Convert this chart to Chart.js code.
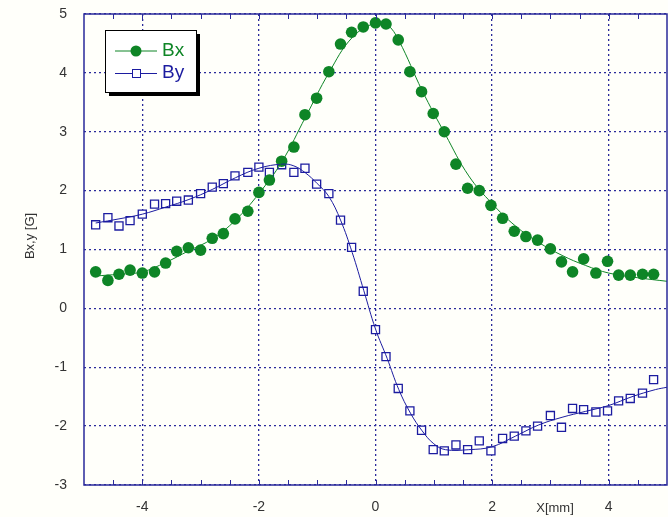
<!DOCTYPE html>
<html>
<head>
<meta charset="utf-8">
<script src="https://cdn.jsdelivr.net/npm/chart.js@4/dist/chart.umd.min.js"></script>
<style>
  html, body { margin: 0; padding: 0; background: #fffffa; }
  #wrap { width: 668px; height: 517px; position: relative; }
</style>
</head>
<body>
<div id="wrap"><canvas id="graph" width="668" height="517"></canvas></div>
<script>
// measured positions (mm)
var xs = [-4.80,-4.59,-4.40,-4.21,-4.00,-3.79,-3.60,-3.41,-3.21,-3.00,-2.80,-2.61,-2.41,-2.19,-2.00,-1.82,
  -1.61,-1.40,-1.21,-1.01,-0.80,-0.60,-0.41,-0.21,0.00,0.18,0.39,0.59,0.79,0.99,1.18,1.38,1.58,1.78,1.98,
  2.18,2.38,2.58,2.78,3.00,3.19,3.38,3.57,3.78,3.98,4.17,4.37,4.58,4.77];

// measured Bx, By (G)
var bx = [0.62,0.475,0.58,0.65,0.60,0.62,0.77,0.97,1.03,0.99,1.19,1.27,1.52,1.65,1.97,2.18,
  2.50,2.74,3.29,3.57,4.02,4.49,4.69,4.78,4.85,4.83,4.56,4.02,3.68,3.31,3.00,2.45,2.04,2.00,1.75,
  1.53,1.31,1.22,1.16,1.01,0.79,0.62,0.84,0.60,0.80,0.565,0.565,0.58,0.58];
var by = [1.42,1.54,1.40,1.49,1.60,1.77,1.78,1.82,1.84,1.95,2.06,2.12,2.25,2.31,2.40,2.31,
  2.44,2.31,2.38,2.11,1.95,1.50,1.035,0.29,-0.36,-0.82,-1.36,-1.74,-2.07,-2.40,-2.42,-2.32,-2.40,-2.25,-2.42,
  -2.21,-2.17,-2.08,-2.00,-1.82,-2.02,-1.70,-1.72,-1.76,-1.74,-1.57,-1.53,-1.44,-1.21];

// fitted curves
var fitX  = [-4.8,-4.4,-4.0,-3.6,-3.2,-2.8,-2.4,-2.0,-1.6,-1.2,-0.8,-0.4,0.0,0.2,0.4,0.8,1.2,1.6,2.0,2.4,2.8,3.2,3.6,4.0,4.5,5.0];
var fitBx = [0.55,0.58,0.62,0.78,0.98,1.18,1.50,1.95,2.50,3.25,4.00,4.60,4.85,4.82,4.55,3.70,2.95,2.25,1.78,1.40,1.12,0.90,0.73,0.60,0.52,0.46];
var fitByX = [-4.8,-4.4,-4.0,-3.6,-3.2,-2.8,-2.4,-2.0,-1.6,-1.4,-1.2,-1.0,-0.8,-0.6,-0.4,-0.2,0.0,0.2,0.4,0.6,0.8,1.0,1.2,1.6,2.0,2.4,2.8,3.2,3.6,4.0,4.4,4.8,5.0];
var fitBy  = [1.45,1.52,1.60,1.72,1.85,2.02,2.22,2.38,2.45,2.42,2.30,2.12,1.90,1.50,0.95,0.30,-0.35,-0.85,-1.38,-1.78,-2.08,-2.30,-2.40,-2.40,-2.35,-2.17,-1.98,-1.85,-1.75,-1.65,-1.50,-1.38,-1.34];

var xTickLabels = [-4, -2, 0, 2, 4];
var yTickLabels = [-3, -2, -1, 0, 1, 2, 3, 4, 5];

var green = '#0e8526';
var blue = '#1c1ca0';
var axisColor = '#2a2a9a';

function pts(x, y) {
  return x.map(function (v, i) { return {x: v, y: y[i]}; });
}

// frame, minor ticks, legend box and axis titles
const decor = {
  id: 'decor',
  afterDraw(chart) {
    const ctx = chart.ctx;
    const a = chart.chartArea;
    const xs_ = chart.scales.x;
    ctx.save();
    ctx.strokeStyle = axisColor;
    ctx.lineWidth = 1.5;
    ctx.strokeRect(a.left, a.top, a.right - a.left, a.bottom - a.top);
    ctx.lineWidth = 1;
    for (let v = -4.5; v < 5; v += 0.5) {
      const p = Math.round(xs_.getPixelForValue(v)) + 0.5;
      ctx.beginPath();
      ctx.moveTo(p, a.bottom); ctx.lineTo(p, a.bottom - 5);
      ctx.moveTo(p, a.top); ctx.lineTo(p, a.top + 5);
      ctx.stroke();
    }
    // legend
    const lx = 105, ly = 30, lw = 91, lh = 62;
    ctx.fillStyle = '#000';
    ctx.fillRect(lx + 4, ly + 4, lw, lh);
    ctx.fillStyle = '#fff';
    ctx.fillRect(lx, ly, lw, lh);
    ctx.strokeStyle = '#000';
    ctx.lineWidth = 1;
    ctx.strokeRect(lx + 0.5, ly + 0.5, lw, lh);
    ctx.strokeStyle = green;
    ctx.beginPath(); ctx.moveTo(115, 51); ctx.lineTo(157, 51); ctx.stroke();
    ctx.fillStyle = green;
    ctx.beginPath(); ctx.arc(136, 51, 5.5, 0, Math.PI * 2); ctx.fill();
    ctx.strokeStyle = blue;
    ctx.beginPath(); ctx.moveTo(115, 73.5); ctx.lineTo(157, 73.5); ctx.stroke();
    ctx.fillStyle = '#fff';
    ctx.fillRect(132.5, 69.5, 8, 8);
    ctx.strokeRect(132.5, 69.5, 8, 8);
    ctx.font = '19px "Liberation Sans", Arial, sans-serif';
    ctx.textBaseline = 'middle';
    ctx.textAlign = 'left';
    ctx.fillStyle = green;
    ctx.fillText('Bx', 162, 51);
    ctx.fillStyle = blue;
    ctx.fillText('By', 162, 73);
    // axis titles
    ctx.fillStyle = '#333';
    ctx.font = '13px "Liberation Sans", Arial, sans-serif';
    ctx.textAlign = 'center';
    ctx.fillText('X[mm]', 555, 508);
    ctx.translate(30, 236);
    ctx.rotate(-Math.PI / 2);
    ctx.fillText('Bx,y [G]', 0, 0);
    ctx.restore();
  }
};

const config = {
  type: 'scatter',
  data: {
    datasets: [
      {
        label: 'Bx fit', data: pts(fitX, fitBx), showLine: true, tension: 0.4,
        borderColor: green, borderWidth: 1, pointRadius: 0
      },
      {
        label: 'By fit', data: pts(fitByX, fitBy), showLine: true, tension: 0.4,
        borderColor: blue, borderWidth: 1, pointRadius: 0
      },
      {
        label: 'Bx', data: pts(xs, bx), pointStyle: 'circle', pointRadius: 5.8,
        backgroundColor: green, borderColor: green, borderWidth: 0
      },
      {
        label: 'By', data: pts(xs, by), pointStyle: 'rect', pointRadius: 5.7,
        backgroundColor: '#ffffff', borderColor: blue, borderWidth: 1.3
      }
    ]
  },
  options: {
    responsive: false,
    animation: false,
    clip: false,
    layout: { autoPadding: false, padding: { top: 14, right: 1, left: 0, bottom: 0 } },
    plugins: { legend: { display: false }, tooltip: { enabled: false } },
    scales: {
      x: {
        type: 'linear', min: -5, max: 5,
        afterFit: function (s) {
          s.height = 32;
          s.paddingLeft = 0; s.paddingRight = 0;
        },
        afterBuildTicks: function (s) {
          s.ticks = xTickLabels.map(function (v) { return {value: v}; });
        },
        ticks: {
          color: '#333', padding: 14, maxRotation: 0,
          font: { family: '"Liberation Sans", Arial, sans-serif', size: 14 }
        },
        grid: {
          drawTicks: false,
          color: axisColor, lineWidth: 1.3
        },
        border: { display: false, dash: [2, 3] }
      },
      y: {
        type: 'linear', min: -3, max: 5,
        afterFit: function (s) {
          s.width = 84;
          s.paddingTop = 0; s.paddingBottom = 0;
        },
        afterBuildTicks: function (s) {
          s.ticks = yTickLabels.map(function (v) { return {value: v}; });
        },
        ticks: {
          color: '#333', padding: 17,
          font: { family: '"Liberation Sans", Arial, sans-serif', size: 14 }
        },
        grid: {
          drawTicks: false,
          color: axisColor, lineWidth: 1.3
        },
        border: { display: false, dash: [2, 3] }
      }
    }
  },
  plugins: [decor]
};

const magChart = new Chart(document.getElementById('graph'), config);
</script>
</body>
</html>
